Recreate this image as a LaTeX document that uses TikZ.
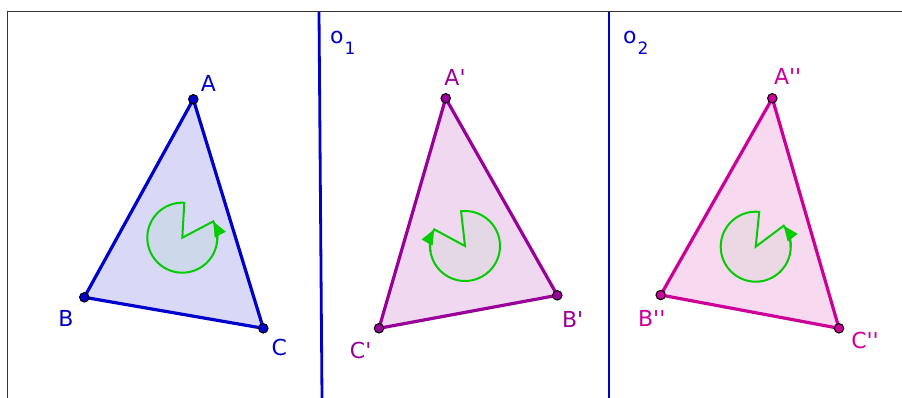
\documentclass[tikz,border=0pt]{standalone}
\usepackage{fontspec}
\setmainfont{DejaVu Sans}
\usepackage{tikz}
\usetikzlibrary{arrows.meta, positioning}
\definecolor{lineblue}{HTML}{0000CC}
\definecolor{imgpurple}{HTML}{990099}
\definecolor{imgmagenta}{HTML}{CC0099}
\definecolor{anglegreen}{HTML}{00CC00}
\definecolor{framegray}{HTML}{333333}
\newcommand{\pr}{\textquotesingle}

\begin{document}
\begin{tikzpicture}[x=1pt, y=1pt,
    frame/.style={draw=framegray, line width=1pt},
    mirror/.style={draw=lineblue, line width=2.8pt},
    tri/.style={line width=3.2pt, line join=round, fill opacity=0.15},
    dot/.style={circle, draw=black, line width=1pt, minimum size=9.5pt, inner sep=0pt},
    lbl/.style={inner sep=0pt, font=\fontsize{22}{26}\selectfont},
    wedge/.style={draw=anglegreen, line width=2pt, fill=anglegreen, fill opacity=0.05},
    turn/.style={draw=anglegreen, line width=2pt, -{Triangle[length=15pt, width=12pt]}},
]
    \useasboundingbox (0,0) rectangle (902,398);

    % frame and mirror lines
    \coordinate (fbl) at (7,0);
    \coordinate (ftl) at (7,386);
    \coordinate (ftr) at (902,386);
    \draw[frame] (fbl) -- (ftl) -- (ftr);
    \coordinate (o1t) at (319,386);
    \coordinate (o1b) at (322,0);
    \coordinate (o2t) at (609,386);
    \coordinate (o2b) at (609,0);
    \draw[mirror] (o1t) -- (o1b);
    \draw[mirror] (o2t) -- (o2b);
    \node[lbl, text=lineblue, anchor=base west] (lo1) at (330,354) {o\hspace{1pt}\raisebox{-11pt}{\fontsize{17}{17}\selectfont 1}};
    \node[lbl, text=lineblue, anchor=base west] (lo2) at (623,354) {o\hspace{1pt}\raisebox{-11pt}{\fontsize{17}{17}\selectfont 2}};

    % points
    \coordinate (A) at (193.3,298.7);
    \coordinate (B) at (84.3,100.7);
    \coordinate (C) at (263.3,69.7);
    \coordinate (A1) at (445.7,299.7);
    \coordinate (B1) at (557.3,102.7);
    \coordinate (C1) at (379,69.7);
    \coordinate (A2) at (772.3,299.7);
    \coordinate (B2) at (660.7,103);
    \coordinate (C2) at (839,69.7);
    \coordinate (M) at (182.3,160.3);
    \coordinate (M1) at (465,152);
    \coordinate (M2) at (755.7,151.3);

    % triangles
    \filldraw[tri, draw=lineblue, fill=lineblue] (A) -- (B) -- (C) -- cycle;
    \filldraw[tri, draw=imgpurple, fill=imgpurple] (A1) -- (B1) -- (C1) -- cycle;
    \filldraw[tri, draw=imgmagenta, fill=imgmagenta] (A2) -- (B2) -- (C2) -- cycle;

    % orientation marks
    \filldraw[wedge] (M) -- ++(86.7:35) arc[start angle=86.7, end angle=387.8, radius=35] -- cycle;
    \draw[turn] (M) ++(350:35) arc[start angle=350, end angle=387.8, radius=35];
    \filldraw[wedge] (M1) -- ++(96.5:35) arc[start angle=96.5, end angle=-208.4, radius=35] -- cycle;
    \draw[turn] (M1) ++(-170:35) arc[start angle=-170, end angle=-208.4, radius=35];
    \filldraw[wedge] (M2) -- ++(84.2:35) arc[start angle=84.2, end angle=396.9, radius=35] -- cycle;
    \draw[turn] (M2) ++(359:35) arc[start angle=359, end angle=396.9, radius=35];

    % dots
    \foreach \p in {A,B,C} \node[dot, fill=lineblue] (d\p) at (\p) {};
    \foreach \p in {A1,B1,C1} \node[dot, fill=imgpurple] (d\p) at (\p) {};
    \foreach \p in {A2,B2,C2} \node[dot, fill=imgmagenta] (d\p) at (\p) {};

    % labels
    \node[lbl, text=lineblue] (lA) at (208.3,315) {A};
    \node[lbl, text=lineblue] (lB) at (66,80) {B};
    \node[lbl, text=lineblue] (lC) at (279.3,50.3) {C};
    \node[lbl, text=imgpurple] (lA1) at (455,321) {A\pr};
    \node[lbl, text=imgpurple] (lB1) at (572.7,79) {B\pr};
    \node[lbl, text=imgpurple] (lC1) at (360.7,48) {C\pr};
    \node[lbl, text=imgmagenta] (lA2) at (787.7,322) {A\pr\pr};
    \node[lbl, text=imgmagenta] (lB2) at (651.7,80) {B\pr\pr};
    \node[lbl, text=imgmagenta] (lC2) at (865,58) {C\pr\pr};
\end{tikzpicture}
\end{document}
